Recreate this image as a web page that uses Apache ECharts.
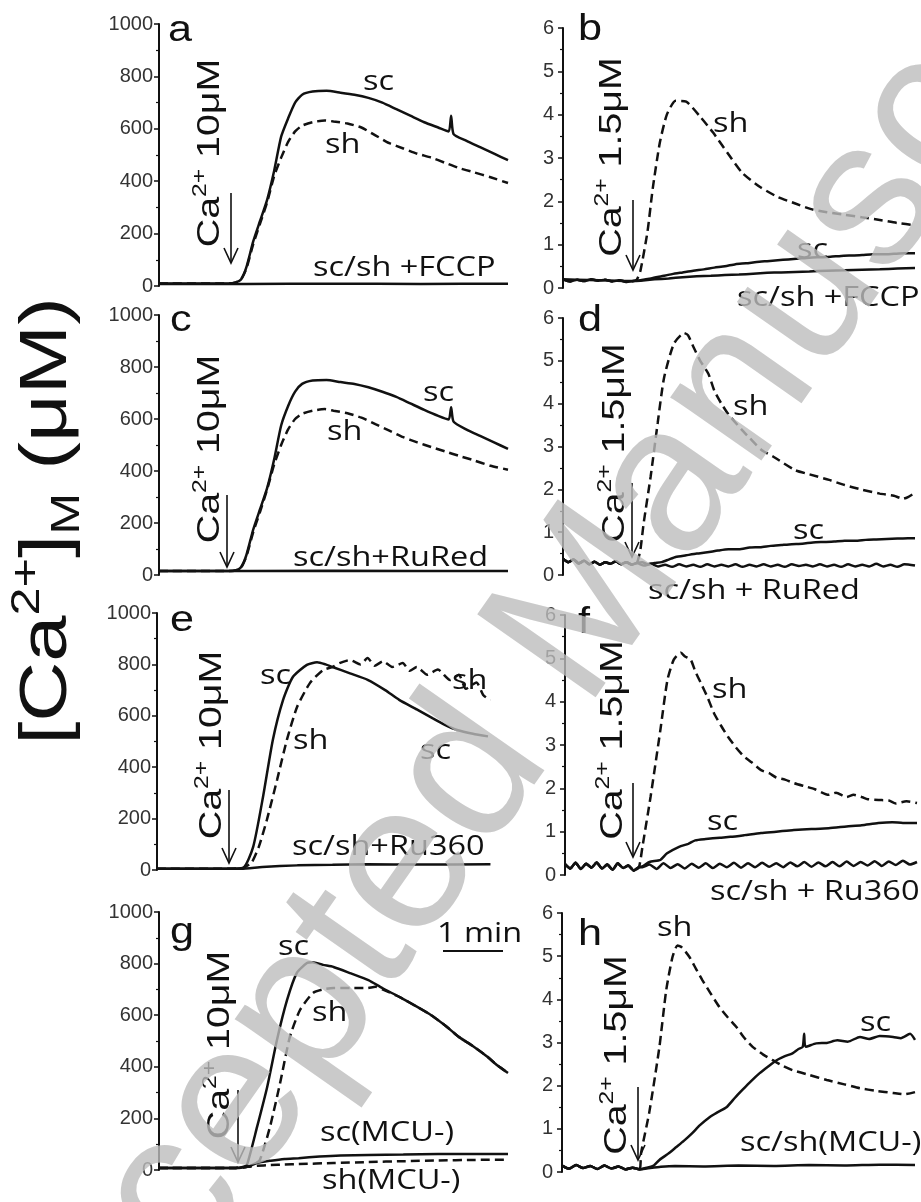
<!DOCTYPE html>
<html><head><meta charset="utf-8">
<script src="https://cdn.jsdelivr.net/npm/echarts@6/dist/echarts.min.js"></script>
<style>html,body{margin:0;padding:0;background:#fff}#c{width:921px;height:1202px}</style>
</head><body><div id="c"></div>
<script>
// ---------- DATA (x: 0-100 = time span of panel, y: [Ca2+]M) ----------
const leftTicks = [0, 200, 400, 600, 800, 1000];
const rightTicks = [0, 1, 2, 3, 4, 5, 6];

// a
const aSc = [[0,10],[20,10],[22,14],[23.5,25],[25,70],[27,170],[29,250],[31,330],[33,440],[35,570],[37,640],[39,700],[41,730],[44,742],[48,745],[52,738],[56,730],[60,718],[64,700],[68,675],[72,650],[76,625],[80,605],[83,590],[83.7,650],[84.4,580],[88,555],[92,530],[96,505],[100,480]];
const aSh = [[0,10],[20,10],[22,14],[23.5,25],[25,65],[27,160],[29,240],[31,320],[33,420],[35,490],[37,550],[39,590],[41,612],[44,625],[47.5,632],[50,628],[54,620],[58,605],[62,575],[66,545],[70,525],[74,505],[78,490],[82,470],[86,450],[90,435],[95,415],[100,393]];
const aFccp = [[0,8],[25,8],[50,9],[75,8],[100,9]];
// b
const bSh = [[0,0.2],[2,0.15],[4,0.19],[6,0.16],[8,0.2],[10,0.17],[12,0.19],[14,0.15],[16,0.18],[18,0.14],[20,0.16],[21,0.2],[22,0.4],[24,1.3],[25.5,2.3],[27.5,3.35],[29.5,4.0],[32,4.32],[35,4.3],[39,3.95],[42.7,3.58],[46.7,3.12],[51,2.65],[56,2.33],[61,2.1],[66,1.95],[70.5,1.82],[75,1.75],[80,1.69],[85,1.63],[90,1.57],[95,1.5],[100,1.45]];
const bSc = [[0,0.2],[2,0.15],[4,0.19],[6,0.16],[8,0.2],[10,0.17],[12,0.19],[14,0.15],[16,0.18],[18,0.14],[20,0.16],[22,0.18],[25,0.22],[28,0.27],[31,0.32],[34,0.36],[37,0.4],[40,0.43],[43,0.47],[46,0.5],[49,0.55],[52,0.57],[55,0.6],[58,0.62],[61,0.64],[64,0.66],[67,0.68],[70,0.7],[73,0.71],[76,0.72],[79,0.74],[82,0.75],[85,0.76],[88,0.78],[91,0.78],[94,0.79],[97,0.8],[100,0.8]];
const bFccp = [[0,0.2],[20,0.16],[22,0.17],[26,0.2],[30,0.22],[34,0.25],[38,0.27],[42,0.28],[46,0.3],[50,0.31],[54,0.33],[58,0.35],[62,0.36],[66,0.37],[70,0.38],[75,0.4],[80,0.41],[85,0.42],[90,0.43],[95,0.45],[100,0.46]];
// c
const cSc = [[0,15],[20,15],[22,18],[23.5,30],[25,75],[27,175],[29,255],[31,335],[33,445],[35,575],[37,650],[39,705],[41,735],[44,748],[48,750],[52,742],[56,735],[60,722],[64,705],[68,685],[72,660],[76,635],[80,612],[83,598],[83.7,645],[84.4,590],[88,560],[92,535],[96,510],[100,485]];
const cSh = [[0,15],[20,15],[22,18],[23.5,28],[25,70],[27,165],[29,245],[31,330],[33,425],[35,500],[37,560],[39,600],[41,620],[44,632],[47.5,638],[50,632],[54,622],[58,605],[62,580],[66,555],[70,530],[74,510],[78,492],[82,475],[86,458],[90,442],[95,420],[100,405]];
const cRured = [[0,15],[50,16],[100,15]];
// d
const dSh = [[0,0.38],[1.5,0.3],[3,0.36],[4.5,0.27],[6,0.33],[7.5,0.25],[9,0.31],[10.5,0.24],[12,0.3],[13.5,0.26],[15,0.32],[16.5,0.25],[18,0.3],[19.5,0.24],[21,0.28],[22,0.6],[22.9,1.2],[24.9,2.3],[26.9,3.55],[28.7,4.6],[31.5,5.4],[34.4,5.65],[35.5,5.6],[37.2,5.3],[39,5.0],[41.3,4.7],[43,4.3],[45,4.0],[47,3.75],[50.7,3.4],[53,3.2],[56.4,2.92],[60,2.75],[65.9,2.45],[70,2.35],[75.6,2.22],[80,2.1],[85,1.99],[90,1.9],[94,1.85],[96.6,1.78],[98,1.82],[100,1.92]];
const dSc = [[0,0.38],[1.5,0.3],[3,0.36],[4.5,0.27],[6,0.33],[7.5,0.25],[9,0.31],[10.5,0.24],[12,0.3],[13.5,0.26],[15,0.32],[16.5,0.25],[18,0.3],[19.5,0.24],[21,0.28],[22.5,0.3],[24,0.25],[26,0.28],[28,0.3],[30,0.36],[32,0.42],[35,0.46],[38,0.5],[41,0.53],[44,0.57],[47,0.6],[50,0.6],[53,0.64],[56,0.65],[59,0.68],[62,0.7],[65,0.72],[68,0.73],[71,0.76],[74,0.77],[77,0.78],[80,0.8],[83,0.8],[86,0.82],[89,0.83],[92,0.84],[95,0.85],[98,0.86],[100,0.86]];
const dRured = [[0,0.38],[1.5,0.3],[3,0.36],[4.5,0.27],[6,0.33],[7.5,0.25],[9,0.31],[10.5,0.24],[12,0.3],[13.5,0.26],[15,0.32],[16.5,0.25],[18,0.3],[19.5,0.24],[21,0.28],[23,0.22],[25,0.26],[27,0.2],[29,0.24],[31,0.19],[33,0.25],[35,0.2],[37,0.24],[39,0.19],[41,0.25],[43,0.2],[45,0.24],[47,0.2],[49,0.25],[51,0.19],[53,0.24],[55,0.2],[57,0.25],[59,0.2],[61,0.24],[63,0.19],[65,0.25],[67,0.21],[69,0.24],[71,0.2],[73,0.25],[75,0.2],[77,0.24],[79,0.19],[81,0.25],[83,0.2],[85,0.24],[87,0.2],[89,0.26],[91,0.2],[93,0.24],[95,0.19],[97,0.25],[100,0.22]];
// e
const eSc = [[0,5],[10,5],[20,5],[24.5,8],[27.4,90],[30.2,284],[33,506],[35.9,661],[38.7,751],[42.7,798],[45.6,808],[48,800],[50,790],[55,765],[60,740],[65,700],[69,662],[74,625],[78.6,590],[82,565],[85.5,545],[90,530],[94.3,520]];
const eSh = [[0,5],[20,5],[24.5,8],[27,30],[29,90],[31.3,195],[34.2,350],[37,506],[39.9,634],[43.6,728],[47.3,778],[50.1,790],[52,805],[55,817],[58,800],[60,825],[62,795],[64.4,812],[67,790],[70,805],[72,775],[74,790],[77,760],[80,780],[83.5,739],[86,760],[88,705],[91,730],[93,680],[95,661]];
const eRu360 = [[0,5],[24,5],[30,12],[40,18],[50,20],[60,22],[75,21],[95,22]];
// f
const fSh = [[0,0.25],[1.5,0.15],[3,0.28],[4.5,0.14],[6,0.26],[7.5,0.17],[9,0.29],[10.5,0.15],[12,0.24],[13.5,0.12],[15,0.27],[16.5,0.16],[18,0.22],[19.5,0.1],[21,0.18],[22,0.65],[24.3,1.8],[27.1,3.35],[29.1,4.5],[30.9,4.97],[32.9,5.13],[34,5.05],[35.7,4.97],[37,4.7],[38.6,4.43],[40.5,4.1],[42.3,3.74],[44.3,3.45],[46.3,3.19],[48.5,2.95],[50.9,2.73],[53,2.6],[55.7,2.42],[58,2.35],[60,2.25],[62.5,2.2],[65.1,2.12],[68,2.05],[71,1.98],[74.9,1.85],[77,1.9],[80,1.8],[82,1.85],[84.3,1.8],[86,1.75],[89.1,1.73],[92,1.72],[94,1.65],[97,1.7],[100,1.66]];
const fSc = [[0,0.25],[1.5,0.15],[3,0.28],[4.5,0.14],[6,0.26],[7.5,0.17],[9,0.29],[10.5,0.15],[12,0.24],[13.5,0.12],[15,0.27],[16.5,0.16],[18,0.22],[19.5,0.1],[21,0.18],[22,0.2],[24,0.3],[27.1,0.35],[29,0.5],[32.4,0.65],[35,0.72],[37,0.8],[40,0.83],[44,0.86],[47,0.88],[51,0.92],[55.7,0.97],[60,1.0],[65,1.04],[70,1.06],[74.9,1.08],[80,1.12],[84.3,1.15],[89,1.2],[93,1.22],[96,1.2],[100,1.2]];
const fRu360 = [[0,0.25],[1.5,0.15],[3,0.28],[4.5,0.14],[6,0.26],[7.5,0.17],[9,0.29],[10.5,0.15],[12,0.24],[13.5,0.12],[15,0.27],[16.5,0.16],[18,0.22],[19.5,0.1],[21,0.18],[22,0.18],[24,0.24],[26,0.14],[28,0.27],[30,0.16],[32,0.25],[34,0.15],[36,0.26],[38,0.17],[40,0.27],[42,0.16],[44,0.26],[46,0.18],[48,0.28],[50,0.17],[52,0.27],[54,0.18],[56,0.28],[58,0.19],[60,0.27],[62,0.18],[64,0.29],[66,0.2],[68,0.3],[70,0.19],[72,0.29],[74,0.2],[76,0.3],[78,0.2],[80,0.31],[82,0.21],[84,0.3],[86,0.22],[88,0.32],[90,0.21],[92,0.31],[94,0.23],[96,0.33],[98,0.24],[100,0.3]];
// g
const gSc = [[0,8],[15,8],[22,8],[24,12],[25.2,20],[28.1,167],[31,322],[33.8,504],[36.7,659],[39.5,764],[42.4,802],[44,805],[47,795],[50,787],[55,762],[60,736],[64,705],[69,670],[74,632],[78,600],[82,560],[86,515],[90,480],[94,440],[97,405],[100,376]];
const gSh = [[0,8],[22,8],[25,12],[27,20],[28.9,39],[31.8,167],[34.7,337],[37.5,516],[40.4,620],[44.1,686],[47,700],[50,705],[55,705],[59.6,705],[62,710],[64,700],[69,670],[74,632],[78,600],[82,560],[86,515],[90,480],[94,440],[97,405],[100,376]];
const gScMcu = [[0,8],[22,8],[24,10],[26,15],[28,27],[32,36],[36,43],[40,46],[46,52],[52,56],[60,58],[70,60],[80,62],[90,62],[100,62]];
const gShMcu = [[0,8],[22,8],[24,10],[26,13],[28,16],[32,19],[36,21],[40,23],[50,27],[60,31],[70,34],[80,37],[90,39],[100,40]];
// h
const hSh = [[0,0.15],[2,0.08],[4,0.16],[6,0.09],[8,0.14],[10,0.07],[12,0.15],[14,0.08],[16,0.13],[18,0.06],[20,0.1],[22,0.06],[22.4,0.44],[24.7,1.37],[27.6,2.9],[29.5,4.2],[31.3,4.98],[32.7,5.25],[34,5.2],[36.1,4.98],[38,4.7],[39.8,4.44],[42,4.15],[44.6,3.82],[47,3.58],[49.4,3.36],[51.5,3.12],[54,2.9],[57,2.72],[59.7,2.59],[62.5,2.46],[65.3,2.36],[70,2.25],[75,2.13],[80,2.03],[84.4,1.94],[89,1.88],[93.8,1.83],[97,1.8],[100,1.85]];
const hSc = [[0,0.15],[2,0.08],[4,0.16],[6,0.09],[8,0.14],[10,0.07],[12,0.15],[14,0.08],[16,0.13],[18,0.06],[20,0.1],[22,0.06],[24,0.1],[26,0.15],[27.6,0.28],[30,0.42],[32.4,0.58],[34.5,0.72],[36.9,0.9],[39,1.08],[41.8,1.27],[44,1.38],[46.6,1.5],[49,1.72],[51.1,1.9],[53.5,2.1],[56,2.29],[58.5,2.45],[60.8,2.59],[63,2.68],[65.3,2.75],[67,2.85],[68.2,2.9],[68.6,3.2],[69,2.9],[72,2.98],[75,2.99],[78,3.05],[81,3.02],[84.4,3.13],[87,3.08],[90,3.15],[93.8,3.13],[96,3.1],[98.6,3.2],[100,3.06]];
const hMcu = [[0,0.15],[2,0.08],[4,0.16],[6,0.09],[8,0.14],[10,0.07],[12,0.15],[14,0.08],[16,0.13],[18,0.06],[20,0.1],[22,0.06],[24,0.08],[28,0.12],[32,0.14],[40,0.13],[50,0.15],[60,0.14],[70,0.16],[80,0.15],[90,0.17],[100,0.16]];

// ---------- LAYOUT ----------
const grids = [
  {left:159, top:24,  width:349, height:262},
  {left:563, top:28,  width:352, height:260},
  {left:159, top:315, width:349, height:260},
  {left:563, top:318, width:352, height:257},
  {left:157, top:613, width:351, height:257},
  {left:565, top:615, width:352, height:260},
  {left:159, top:912, width:349, height:258},
  {left:562, top:913, width:353, height:259}
];
const seriesDefs = [
  [0,aSc,false],[0,aSh,true],[0,aFccp,false],
  [1,bSh,true],[1,bSc,false],[1,bFccp,false],
  [2,cSc,false],[2,cSh,true],[2,cRured,false],
  [3,dSh,true],[3,dSc,false],[3,dRured,false],
  [4,eSc,false],[4,eSh,true],[4,eRu360,false],
  [5,fSh,true],[5,fSc,false],[5,fRu360,false],
  [6,gSc,false],[6,gSh,true],[6,gScMcu,false],[6,gShMcu,true],
  [7,hSh,true],[7,hSc,false],[7,hMcu,false]
];

const ink = '#111';
const tickFont = '"Liberation Sans", Arial, sans-serif';
const xAxes = grids.map((g,i)=>({type:'value', gridIndex:i, min:0, max:100, show:false}));
const yAxes = grids.map((g,i)=>{
  const left = i % 2 === 0;
  const ticks = left ? leftTicks : rightTicks;
  return {
    type:'value', gridIndex:i, min:ticks[0], max:ticks[ticks.length-1], interval:ticks[1]-ticks[0],
    axisLine:{show:true, onZero:false, lineStyle:{color:ink, width:2}},
    axisTick:{show:true, inside:false, length:5, lineStyle:{color:ink, width:1.5}},
    minorTick:{show:true, splitNumber:2, length:3, lineStyle:{color:ink, width:1.2}},
    splitLine:{show:false},
    axisLabel:{color:'#333', fontSize:20, fontFamily:tickFont, margin: left ? 6 : 9, formatter: v => String(v)}
  };
});
const series = seriesDefs.map(([gi,data,dashed])=>({
  type:'line', xAxisIndex:gi, yAxisIndex:gi, data:data, showSymbol:false, smooth:0.2,
  animation:false, silent:true,
  lineStyle:{color:ink, width:2.5, type: dashed ? [9,5] : 'solid'}
}));

// ---------- ANNOTATIONS (pixel positions) ----------
const lblFont = '"Open Sans", "DejaVu Sans", sans-serif';
const labels = [
  ['sc',363,82],['sh',325,145],['sc/sh +FCCP',313,268],
  ['sh',713,124],['sc',797,250],['sc/sh +FCCP',737,298],
  ['sc',423,393],['sh',327,432],['sc/sh+RuRed',293,558],
  ['sh',733,407],['sc',793,531],['sc/sh + RuRed',648,591],
  ['sc',260,676],['sh',293,741],['sc',420,751],['sh',452,681],['sc/sh+Ru360',292,847],
  ['sh',712,690],['sc',707,822],['sc/sh + Ru360',710,892],
  ['sc',278,947],['sh',312,1013],['sc(MCU-)',320,1133],['sh(MCU-)',322,1181],
  ['sh',657,928],['sc',860,1023],['sc/sh(MCU-)',740,1143],
  ['1 min',437,934]
];
const letters = [['a',168,31],['b',578,30],['c',170,321],['d',578,321],['e',170,621],['f',578,623],['g',170,933],['h',578,935]];
const caLabels = [['10μM',208,153],['1.5μM',610,157],['10μM',208,449],['1.5μM',613,443],['10μM',210,745],['1.5μM',611,740],['10μM',218,1045],['1.5μM',615,1055]];
const arrows = [[231,193,263],[633,200,270],[227,495,567],[632,483,557],[229,790,863],[633,783,857],[238,1090,1162],[638,1087,1160]];

const graphic = [];
labels.forEach(([t,x,y])=>graphic.push({type:'text', x:x, y:y, scaleX:1.16, z:50, style:{text:t, fill:ink, font:'28px '+lblFont, verticalAlign:'middle', align:'left'}}));
letters.forEach(([t,x,y])=>graphic.push({type:'text', x:x, y:y, scaleX:1.2, z:50, style:{text:t, fill:ink, font:'36px '+tickFont, verticalAlign:'middle', align:'left'}}));
caLabels.forEach(([t,x,y])=>graphic.push({type:'text', x:x, y:y, rotation:Math.PI/2, scaleX:1.23, z:50, style:{
  text:'{n|Ca}{s|2+}{n| '+t+'}', fill:ink, align:'center', verticalAlign:'middle',
  rich:{n:{fontSize:32, fontFamily:tickFont, fill:ink, lineHeight:36, verticalAlign:'bottom'},
        s:{fontSize:20, fontFamily:tickFont, fill:ink, lineHeight:36, verticalAlign:'top'}}
}}));
arrows.forEach(([x,y1,y2])=>{
  graphic.push({type:'line', z:50, shape:{x1:x,y1:y1,x2:x,y2:y2}, style:{stroke:ink, lineWidth:1.6}});
  graphic.push({type:'polyline', z:50, shape:{points:[[x-7,y2-15],[x,y2],[x+7,y2-15]]}, style:{stroke:ink, lineWidth:1.6, fill:null}});
});
// scale bar
graphic.push({type:'line', z:50, shape:{x1:443,y1:951,x2:503,y2:951}, style:{stroke:ink, lineWidth:2.2}});
// big y-axis title
graphic.push({type:'text', x:48, y:521, rotation:Math.PI/2, scaleX:1.26, z:50, style:{
  text:'{n|[Ca}{s|2+}{n|]}{b|M}{n| (μM)}', fill:ink, align:'center', verticalAlign:'middle',
  rich:{n:{fontSize:66, fontFamily:tickFont, fill:ink, lineHeight:80, verticalAlign:'middle'},
        s:{fontSize:40, fontFamily:tickFont, fill:ink, lineHeight:80, verticalAlign:'top'},
        b:{fontSize:40, fontFamily:tickFont, fill:ink, lineHeight:80, verticalAlign:'bottom'}}
}});
// watermark
graphic.push({type:'text', x:565, y:640, rotation:55*Math.PI/180, z:100, silent:true, style:{
  text:'Accepted Manuscript', fill:'#bdbdbd', opacity:0.8, font:'210px '+tickFont, align:'center', verticalAlign:'middle'}});

const chart = echarts.init(document.getElementById('c'), null, {renderer:'canvas'});
chart.setOption({
  animation:false, backgroundColor:'#fff',
  grid: grids, xAxis: xAxes, yAxis: yAxes, series: series, graphic: graphic
});
</script></body></html>
